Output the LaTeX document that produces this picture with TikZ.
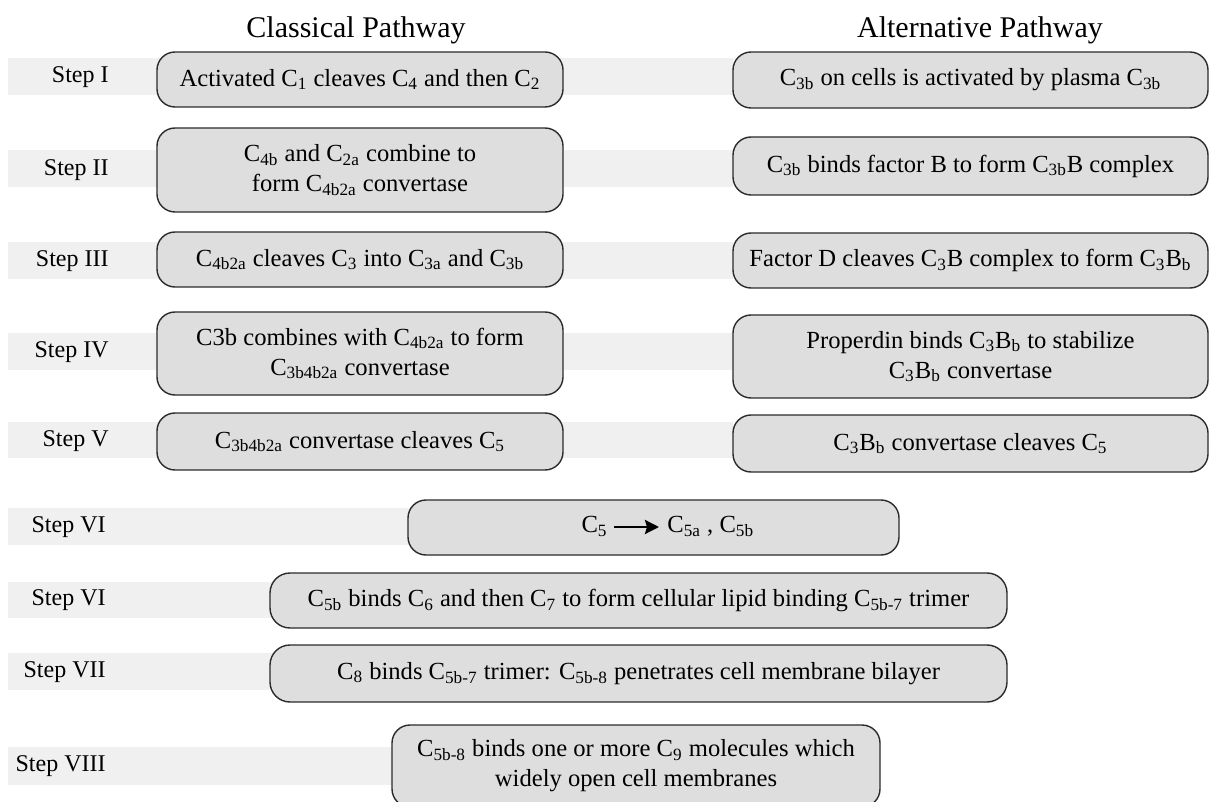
\documentclass[tikz,border=0pt]{standalone}
\usepackage{fontspec}
\setmainfont{Liberation Serif}
\usepackage{tikz}
\usetikzlibrary{arrows.meta}

\definecolor{boxgray}{HTML}{DEDEDE}
\definecolor{bandgray}{HTML}{F0F0F0}
\definecolor{edgegray}{HTML}{2B2B2B}

\newcommand{\sbs}[1]{\textsubscript{#1}}

\tikzset{
  stepbox/.style={draw=edgegray, fill=boxgray, line width=0.7pt, rounded corners=9pt,
    align=center, inner sep=0pt, font=\fontsize{12.3}{15}\selectfont},
  steplabel/.style={anchor=east, inner sep=0pt, font=\fontsize{12}{14}\selectfont},
  heading/.style={font=\fontsize{15}{18}\selectfont},
  plain/.style={inner sep=0pt, text height=8pt, text depth=2.5pt, font=\fontsize{12.3}{15}\selectfont},
}

\begin{document}
\begin{tikzpicture}[x=0.5pt, y=-0.5pt]       % 1 unit = 1 px
    \path[use as bounding box] (0,0) rectangle (1216,802);

    % bands behind the step names
    \fill[bandgray] (8,58) rectangle (733,95);
    \fill[bandgray] (8,150) rectangle (733,187);
    \fill[bandgray] (8,242) rectangle (733,279);
    \fill[bandgray] (8,333) rectangle (733,370);
    \fill[bandgray] (8,422) rectangle (733,458);
    \fill[bandgray] (8,508) rectangle (450,545);
    \fill[bandgray] (8,582) rectangle (300,618);
    \fill[bandgray] (8,653) rectangle (300,690);
    \fill[bandgray] (8,747) rectangle (420,785);

    \node[heading] at (356,30) (classical) {Classical Pathway};
    \node[heading] at (980,30) (alternative) {Alternative Pathway};

    \node[steplabel] at (109,77)  (s1) {Step I};
    \node[steplabel] at (109,170) (s2) {Step II};
    \node[steplabel] at (109,261) (s3) {Step III};
    \node[steplabel] at (109,352) (s4) {Step IV};
    \node[steplabel] at (109,441) (s5) {Step V};
    \node[steplabel] at (106,527) (s6) {Step VI};
    \node[steplabel] at (106,600) (s6b) {Step VI};
    \node[steplabel] at (106,672) (s7) {Step VII};
    \node[steplabel] at (106,766) (s8) {Step VIII};

    % classical pathway
    \node[stepbox, minimum width=203pt, minimum height=27.5pt] at (360,79.5) (c1)
        {Activated C\sbs{1} cleaves C\sbs{4} and then C\sbs{2}};
    \node[stepbox, minimum width=203pt, minimum height=42pt] at (360,170) (c2)
        {C\sbs{4b} and C\sbs{2a} combine to\\form C\sbs{4b2a} convertase};
    \node[stepbox, minimum width=203pt, minimum height=27.5pt] at (360,259.5) (c3)
        {C\sbs{4b2a} cleaves C\sbs{3} into C\sbs{3a} and C\sbs{3b}};
    \node[stepbox, minimum width=203pt, minimum height=41.5pt] at (360,353.5) (c4)
        {C3b combines with C\sbs{4b2a} to form\\C\sbs{3b4b2a} convertase};
    \node[stepbox, minimum width=203pt, minimum height=28.5pt] at (360,441.5) (c5)
        {C\sbs{3b4b2a} convertase cleaves C\sbs{5}};

    % alternative pathway
    \node[stepbox, minimum width=237.5pt, minimum height=28pt] at (970.5,80) (a1)
        {C\sbs{3b} on cells is activated by plasma C\sbs{3b}};
    \node[stepbox, minimum width=237.5pt, minimum height=29pt] at (970.5,166) (a2)
        {C\sbs{3b} binds factor B to form C\sbs{3b}B complex};
    \node[stepbox, minimum width=237.5pt, minimum height=27.5pt] at (970.5,260.5) (a3)
        {Factor D cleaves C\sbs{3}B complex to form C\sbs{3}B\sbs{b}};
    \node[stepbox, minimum width=237.5pt, minimum height=41.5pt] at (970.5,356.5) (a4)
        {Properdin binds C\sbs{3}B\sbs{b} to stabilize\\C\sbs{3}B\sbs{b} convertase};
    \node[stepbox, minimum width=237.5pt, minimum height=28.5pt] at (970.5,443.5) (a5)
        {C\sbs{3}B\sbs{b} convertase cleaves C\sbs{5}};

    % common terminal steps
    \node[stepbox, minimum width=245.5pt, minimum height=27.5pt] at (653.5,527.5) (t6) {};
    \node[plain, anchor=east] at (608,527) (c5in) {C\sbs{5}};
    \node[plain, anchor=west] at (667,527) (c5out) {C\sbs{5a} , C\sbs{5b}};
    \draw[line width=1.3pt, -{Stealth[length=7pt, width=7pt, inset=1pt]},
        shorten <=3pt, shorten >=4pt] (c5in) -- (c5out);

    \node[stepbox, minimum width=368.5pt, minimum height=27.5pt, rounded corners=10pt] at (638.5,600.5) (t6b)
        {C\sbs{5b} binds C\sbs{6} and then C\sbs{7} to form cellular lipid binding C\sbs{5b-7} trimer};
    \node[stepbox, minimum width=368.5pt, minimum height=28.5pt, rounded corners=10pt] at (638.5,673.5) (t7)
        {C\sbs{8} binds C\sbs{5b-7} trimer: C\sbs{5b-8} penetrates cell membrane bilayer};
    \node[stepbox, minimum width=244pt, minimum height=41pt] at (636,766) (t8)
        {C\sbs{5b-8} binds one or more C\sbs{9} molecules which\\widely open cell membranes};
\end{tikzpicture}
\end{document}
